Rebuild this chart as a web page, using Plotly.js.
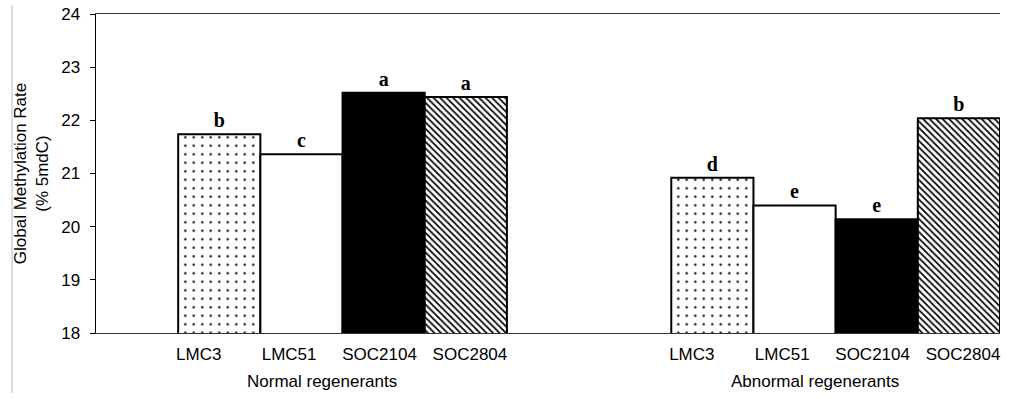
<!DOCTYPE html>
<html>
<head>
<meta charset="utf-8">
<script src="https://cdn.plot.ly/plotly-3.0.1.min.js"></script>
<style>
  html, body { margin: 0; padding: 0; background: #fff; }
  #chart { width: 1014px; height: 399px; }
</style>
</head>
<body>
<div id="chart"></div>
<script>
// ---- data ----
const groups = ["Normal regenerants", "Abnormal regenerants"];
const cultivars = ["LMC3", "LMC51", "SOC2104", "SOC2804"];
// values per cultivar: [normal, abnormal]
const LMC3 = [21.74, 20.92];
const LMC51 = [21.36, 20.40];
const SOC2104 = [22.52, 20.14];
const SOC2804 = [22.44, 22.04];
// significance letters per cultivar: [normal, abnormal]
const LMC3_letters = ["b", "d"];
const LMC51_letters = ["c", "e"];
const SOC2104_letters = ["a", "e"];
const SOC2804_letters = ["a", "b"];
const yTicks = [18, 19, 20, 21, 22, 23, 24];

// ---- layout helpers ----
const groupStart = [1, 7];           // slot where each group begins
const series = [
  {name: "LMC3", y: LMC3, t: LMC3_letters,
   marker: {color: "white", line: {color: "black", width: 2},
            pattern: {shape: ".", size: 8.5, solidity: 0.06, fgcolor: "black", bgcolor: "white"}}},
  {name: "LMC51", y: LMC51, t: LMC51_letters,
   marker: {color: "white", line: {color: "black", width: 2}}},
  {name: "SOC2104", y: SOC2104, t: SOC2104_letters,
   marker: {color: "black", line: {color: "black", width: 2}}},
  {name: "SOC2804", y: SOC2804, t: SOC2804_letters,
   marker: {color: "white", line: {color: "black", width: 2},
            pattern: {shape: "\\", size: 4.6, solidity: 0.38, fgcolor: "black", bgcolor: "white"}}}
];

const traces = series.map((s, i) => ({
  type: "bar",
  name: s.name,
  x: groupStart.map(g => g + i + 0.5),
  y: s.y,
  width: 1,
  base: 0,
  marker: s.marker,
  text: s.t,
  textposition: "outside",
  cliponaxis: false,
  textfont: {family: "Liberation Serif", size: 20, color: "black", weight: "bold"},
  hoverinfo: "skip",
  showlegend: false
}));

const tickvals = [], ticktext = [];
groupStart.forEach(g => cultivars.forEach((c, i) => {
  tickvals.push(g + 0.25 + i * 1.1);
  ticktext.push(c);
}));

const font = {family: "Liberation Sans, Arial, sans-serif", size: 17, color: "black"};

const layout = {
  width: 1014, height: 399,
  margin: {l: 96, r: 14, t: 14, b: 66},
  paper_bgcolor: "white", plot_bgcolor: "white",
  font: font,
  barmode: "overlay",
  xaxis: {
    type: "linear", range: [0, 11], fixedrange: true,
    tickvals: tickvals, ticktext: ticktext, ticks: "",
    showgrid: false, zeroline: false,
    showline: true, linecolor: "#333", linewidth: 1, mirror: true,
    ticklabelstandoff: 6, tickfont: font
  },
  yaxis: {
    range: [18, 24], tickvals: yTicks, fixedrange: true,
    ticks: "outside", ticklen: 5, tickcolor: "black", tickwidth: 1,
    showgrid: false, zeroline: false,
    showline: true, linecolor: "black", linewidth: 1.5,
    ticklabelstandoff: 6, tickfont: font,
    title: {text: "Global Methylation Rate<br>(% 5mdC)", font: {family: font.family, size: 17, color: "black"}, standoff: 8}
  },
  annotations: groups.map((g, k) => ({
    text: g, xref: "x", yref: "paper",
    x: groupStart[k] + 1.75, y: -0.152,
    xanchor: "center", yanchor: "middle",
    showarrow: false, font: font
  })),
  shapes: [{
    type: "line", xref: "paper", yref: "paper",
    x0: -0.0929, x1: -0.0929, y0: 1.028, y1: -0.188,
    line: {color: "#bbb", width: 1}
  }]
};

Plotly.newPlot("chart", traces, layout, {displayModeBar: false, staticPlot: true});
</script>
</body>
</html>
